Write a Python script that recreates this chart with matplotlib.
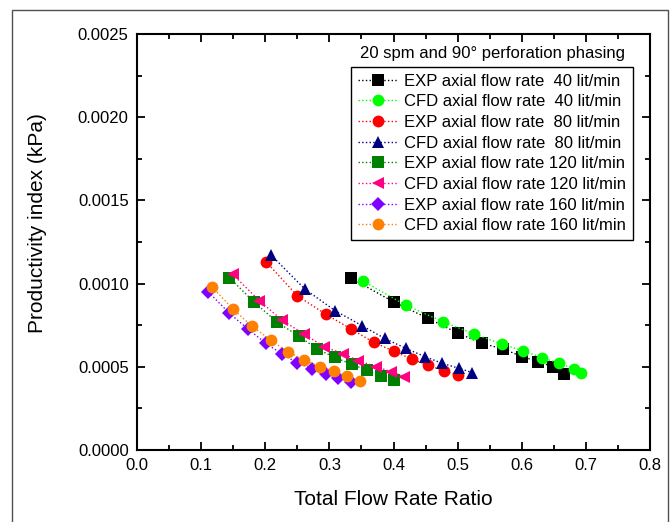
import numpy as np
import matplotlib.pyplot as plt
from matplotlib.ticker import MultipleLocator, FormatStrFormatter
from matplotlib.patches import Rectangle

plt.rcParams['font.family'] = ['Liberation Sans', 'DejaVu Sans']

# total flow rate ratio / productivity index for each run
exp40_x = [0.334, 0.401, 0.454, 0.501, 0.538, 0.571, 0.601, 0.626, 0.648, 0.666]
exp40_y = [0.001032, 0.000888, 0.000791, 0.000701, 0.000641, 0.000607, 0.000561, 0.000531, 0.000501, 0.000455]
cfd40_x = [0.352, 0.419, 0.477, 0.526, 0.569, 0.602, 0.632, 0.658, 0.682, 0.692]
cfd40_y = [0.001016, 0.000871, 0.000771, 0.000697, 0.000637, 0.000595, 0.000555, 0.000521, 0.000487, 0.000461]
exp80_x = [0.201, 0.250, 0.294, 0.333, 0.369, 0.401, 0.429, 0.454, 0.478, 0.500]
exp80_y = [0.001132, 0.000927, 0.000817, 0.000729, 0.000647, 0.000593, 0.000545, 0.000511, 0.000475, 0.000449]
cfd80_x = [0.209, 0.262, 0.309, 0.351, 0.386, 0.419, 0.449, 0.476, 0.502, 0.523]
cfd80_y = [0.001172, 0.000966, 0.000837, 0.000747, 0.000671, 0.000611, 0.000561, 0.000521, 0.000491, 0.000465]
exp120_x = [0.144, 0.182, 0.219, 0.252, 0.281, 0.308, 0.335, 0.358, 0.380, 0.401]
exp120_y = [0.001036, 0.000891, 0.000767, 0.000685, 0.000607, 0.000557, 0.000515, 0.000481, 0.000445, 0.000421]
cfd120_x = [0.149, 0.191, 0.226, 0.260, 0.292, 0.322, 0.345, 0.373, 0.396, 0.417]
cfd120_y = [0.001056, 0.000897, 0.000781, 0.000697, 0.000621, 0.000577, 0.000537, 0.000501, 0.000471, 0.000441]
exp160_x = [0.111, 0.144, 0.173, 0.201, 0.226, 0.249, 0.273, 0.295, 0.314, 0.333]
exp160_y = [0.000951, 0.000822, 0.000727, 0.000641, 0.000577, 0.000525, 0.000489, 0.000457, 0.000435, 0.000407]
cfd160_x = [0.117, 0.149, 0.179, 0.209, 0.235, 0.261, 0.285, 0.307, 0.328, 0.348]
cfd160_y = [0.000981, 0.000849, 0.000745, 0.000659, 0.000591, 0.000541, 0.000501, 0.000475, 0.000447, 0.000415]

labels = ['EXP axial flow rate  40 lit/min', 'CFD axial flow rate  40 lit/min',
          'EXP axial flow rate  80 lit/min', 'CFD axial flow rate  80 lit/min',
          'EXP axial flow rate 120 lit/min', 'CFD axial flow rate 120 lit/min',
          'EXP axial flow rate 160 lit/min', 'CFD axial flow rate 160 lit/min']

series = [(exp40_x, exp40_y, 'black', 's'), (cfd40_x, cfd40_y, '#00ff00', 'o'),
          (exp80_x, exp80_y, '#ff0000', 'o'), (cfd80_x, cfd80_y, '#000080', '^'),
          (exp120_x, exp120_y, '#008000', 's'), (cfd120_x, cfd120_y, '#ff0080', '<'),
          (exp160_x, exp160_y, '#8000ff', 'D'), (cfd160_x, cfd160_y, '#ff8000', 'o')]

fig = plt.figure(figsize=(6.71, 5.22), dpi=100)
ax = fig.add_axes([0.2042, 0.1379, 0.7645, 0.797])

# outer frame
fig.patches.append(Rectangle((12/671, -0.05), 656/671, 1.05 - 10/522, transform=fig.transFigure,
                             fill=False, edgecolor='#505050', linewidth=1.0))

for (x, y, c, m), lab in zip(series, labels):
    ms = 7.5 if m == 'D' else 8.5
    ax.plot(x, y, linestyle=':', color=c, linewidth=1.0, marker=m, markersize=ms,
            markeredgewidth=0, label=lab)

ax.set_xlim(0, 0.8)
ax.set_ylim(0, 0.0025)
ax.xaxis.set_major_locator(MultipleLocator(0.1))
ax.xaxis.set_minor_locator(MultipleLocator(0.05))
ax.yaxis.set_major_locator(MultipleLocator(0.0005))
ax.yaxis.set_minor_locator(MultipleLocator(0.00025))
ax.xaxis.set_major_formatter(FormatStrFormatter('%.1f'))
ax.yaxis.set_major_formatter(FormatStrFormatter('%.4f'))
ax.tick_params(which='both', direction='in', top=True, right=True, labelsize=12, width=1.3, pad=6)
ax.tick_params(which='major', length=6)
ax.tick_params(which='minor', length=3.5)
for s in ax.spines.values():
    s.set_linewidth(1.5)

ax.set_xlabel('Total Flow Rate Ratio', fontsize=15, labelpad=12)
ax.set_ylabel('Productivity index (kPa)', fontsize=15)
ax.yaxis.set_label_coords(-0.175, 0.546)

ax.text(0.692, 0.954, '20 spm and 90\u00b0 perforation phasing', transform=ax.transAxes,
        ha='center', va='center', fontsize=12)
leg = ax.legend(loc='upper right', bbox_to_anchor=(0.967, 0.921), fontsize=12, handlelength=2.4,
                handletextpad=0.4, labelspacing=0.34, borderpad=0.4, fancybox=False,
                framealpha=1, edgecolor='black', borderaxespad=0)
leg.get_frame().set_linewidth(1.0)

fig.savefig('out.png', dpi=100)
